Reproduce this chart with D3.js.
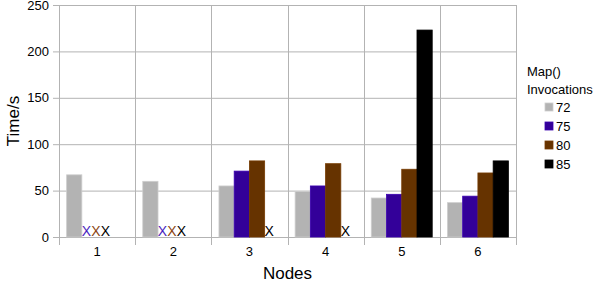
<!DOCTYPE html>
<html>
<head>
<meta charset="utf-8">
<script src="https://cdn.jsdelivr.net/npm/d3@7"></script>
<style>
  body { margin: 0; background: #fff; }
  text { font-family: "Liberation Sans", Arial, sans-serif; }
</style>
</head>
<body>
<div id="chart"></div>
<script>
// Data
var nodes = ["1", "2", "3", "4", "5", "6"];
var seriesNames = ["72", "75", "80", "85"];
var seriesColors = ["#b3b3b3", "#330099", "#663300", "#000000"];
var values72 = [67, 60, 55, 49, 42, 37];
var values75 = [null, null, 71, 55, 46, 44];
var values80 = [null, null, 82, 79, 73, 69];
var values85 = [null, null, null, null, 223, 82];
var yTicks = [0, 50, 100, 150, 200, 250];

var allSeries = [values72, values75, values80, values85];

var width = 602, height = 283;
var margin = {top: 5, right: 86, bottom: 46, left: 59};
var plotW = width - margin.left - margin.right,
    plotH = height - margin.top - margin.bottom;

var svg = d3.select("#chart").append("svg")
    .attr("width", width)
    .attr("height", height);

var g = svg.append("g")
    .attr("transform", "translate(" + margin.left + "," + margin.top + ")");

var x0 = d3.scaleBand().domain(nodes).range([0, plotW]).paddingInner(0).paddingOuter(0);
var x1 = d3.scaleBand().domain(seriesNames)
    .range([x0.bandwidth() * 0.1, x0.bandwidth() * 0.9]);
var y = d3.scaleLinear().domain([0, 250]).range([plotH, 0]);
var color = d3.scaleOrdinal().domain(seriesNames).range(seriesColors);

// grid
g.selectAll(".hgrid").data(yTicks).enter().append("line")
    .attr("x1", -6).attr("x2", plotW)
    .attr("y1", function(d) { return y(d) + 0.5; })
    .attr("y2", function(d) { return y(d) + 0.5; })
    .attr("stroke", "#b3b3b3");

var vlines = d3.range(nodes.length + 1);
g.selectAll(".vgrid").data(vlines).enter().append("line")
    .attr("x1", function(i) { return Math.round(i * x0.bandwidth()) + 0.5; })
    .attr("x2", function(i) { return Math.round(i * x0.bandwidth()) + 0.5; })
    .attr("y1", 0).attr("y2", plotH + 8)
    .attr("stroke", "#b3b3b3");

// y tick labels
g.selectAll(".ylab").data(yTicks).enter().append("text")
    .attr("x", -10)
    .attr("y", function(d) { return y(d); })
    .attr("dy", "0.35em")
    .attr("text-anchor", "end")
    .attr("font-size", 13)
    .attr("fill", "#000")
    .text(function(d) { return d; });

// x tick labels
g.selectAll(".xlab").data(nodes).enter().append("text")
    .attr("x", function(d) { return x0(d) + x0.bandwidth() / 2; })
    .attr("y", plotH + 19)
    .attr("text-anchor", "middle")
    .attr("font-size", 13)
    .attr("fill", "#000")
    .text(function(d) { return d; });

// bars
var barData = [];
var missing = [];
nodes.forEach(function(n, i) {
    var firstMissing = null, k = 0;
    seriesNames.forEach(function(s, j) {
        var v = allSeries[j][i];
        if (v === null) {
            if (firstMissing === null) firstMissing = s;
            missing.push({node: n, series: s, first: firstMissing, k: k});
            k++;
        } else {
            barData.push({node: n, series: s, value: v});
        }
    });
});

g.selectAll(".bar").data(barData).enter().append("rect")
    .attr("x", function(d) { return x0(d.node) + x1(d.series); })
    .attr("y", function(d) { return y(d.value); })
    .attr("width", x1.bandwidth())
    .attr("height", function(d) { return plotH - y(d.value); })
    .attr("fill", function(d) { return color(d.series); })
    .attr("stroke", function(d) { return d3.color(color(d.series)).brighter(0.4); })
    .attr("stroke-width", 0.8);

// "X" markers for missing runs
g.selectAll(".miss").data(missing).enter().append("text")
    .attr("x", function(d) { return x0(d.node) + x1(d.first) + 4.5 + d.k * 9.5; })
    .attr("y", plotH - 1)
    .attr("text-anchor", "middle")
    .attr("font-size", 14)
    .attr("fill", function(d) { return d.series === "80" ? "#8b4513" : (d.series === "75" ? "#4b1fc0" : "#000"); })
    .text("X");

// axis titles
svg.append("text")
    .attr("transform", "translate(19," + (margin.top + plotH / 2) + ") rotate(-90)")
    .attr("text-anchor", "middle")
    .attr("font-size", 17)
    .text("Time/s");

svg.append("text")
    .attr("x", margin.left + plotW / 2)
    .attr("y", 279)
    .attr("text-anchor", "middle")
    .attr("font-size", 17)
    .text("Nodes");

// legend
var legend = svg.append("g").attr("transform", "translate(527,0)");
legend.append("text")
    .attr("x", 0).attr("y", 76)
    .attr("font-family", "DejaVu Sans")
    .attr("font-size", 13)
    .text("Map()");
legend.append("text")
    .attr("x", 0).attr("y", 94)
    .attr("font-family", "DejaVu Sans")
    .attr("font-size", 13)
    .text("Invocations");

var items = legend.selectAll(".li").data(seriesNames).enter().append("g")
    .attr("transform", function(d, i) { return "translate(0," + (107 + i * 19) + ")"; });
items.append("rect")
    .attr("x", 18).attr("y", -4)
    .attr("width", 8).attr("height", 8)
    .attr("fill", function(d) { return color(d); })
    .attr("stroke", function(d) { return d3.color(color(d)).brighter(0.4); })
    .attr("stroke-width", 0.8);
items.append("text")
    .attr("x", 29).attr("y", 0)
    .attr("dy", "0.35em")
    .attr("font-size", 13)
    .text(function(d) { return d; });
</script>
</body>
</html>
